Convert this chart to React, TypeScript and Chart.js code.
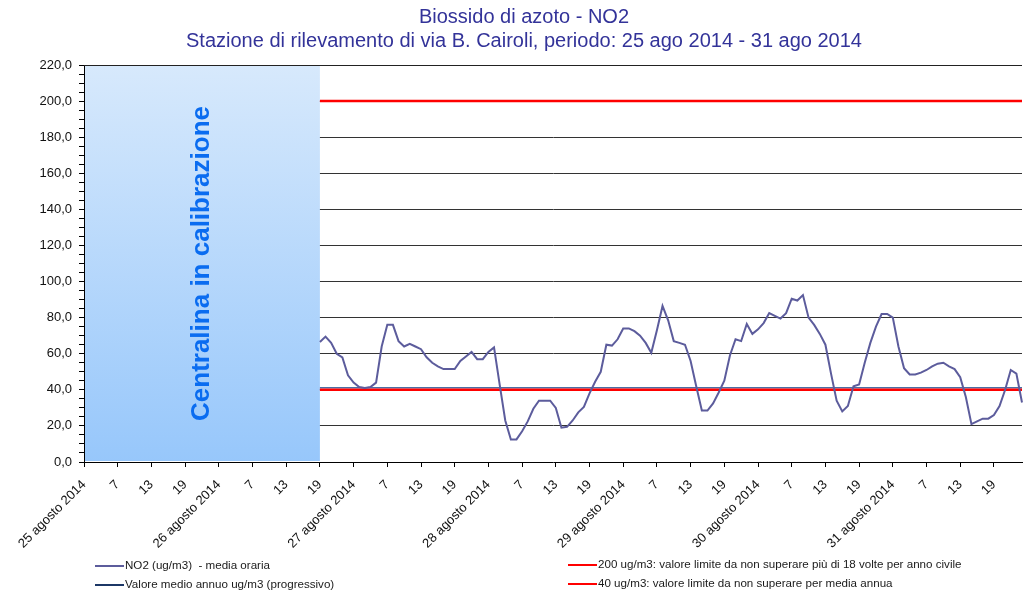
import React, { useEffect, useRef } from 'react';
import { Chart, registerables } from 'chart.js';

Chart.register(...registerables);

const titleLines = [
  'Biossido di azoto - NO2',
  'Stazione di rilevamento di via B. Cairoli, periodo: 25 ago 2014 - 31 ago 2014',
];

const dayLabels = [
  '25 agosto 2014',
  '26 agosto 2014',
  '27 agosto 2014',
  '28 agosto 2014',
  '29 agosto 2014',
  '30 agosto 2014',
  '31 agosto 2014',
];
const hoursPerDay = 24;
const hourTickEvery = 6; // tick labels: day, 7, 13, 19

const calibrationHours = 42; // hours with the station in calibration (no data)
const calibrationText = 'Centralina in calibrazione';

// NO2 hourly means (ug/m3) from 26 agosto h19 to 31 agosto h24
const no2Hourly = [
  66.5, 69.5, 66, 60, 58, 48, 44, 41.5, 41, 41.5,
  44, 64, 76, 76, 67, 64, 65.5, 64, 62.5, 58,
  55, 53, 51.5, 51.5, 51.5, 56, 58.5, 61, 57, 57,
  61, 63.5, 43, 23, 12.5, 12.5, 17, 22.5, 29.5, 34,
  34, 34, 30, 19, 19.5, 23, 27.5, 30.5, 38, 44.5,
  50, 65, 64.5, 68, 74, 74, 72.5, 70, 66, 60.5,
  73, 86.5, 78.5, 67, 66, 65, 56, 42, 28.5, 28.5,
  32.5, 38.5, 45, 59, 68, 67, 76.5, 71, 73.5, 77,
  82.5, 81, 79.5, 82.5, 90.5, 89.5, 92.5, 80, 76, 71,
  65, 49, 34, 28, 31, 42, 43, 55, 66, 75,
  82, 82, 80, 64, 52, 48.5, 48.5, 49.5, 51, 53,
  54.5, 55, 53, 51.5, 47, 36, 21, 22.5, 24, 24,
  26, 31, 40, 51, 49, 33,
];

const limitHourly = 200;
const limitAnnual = 40;
const annualMeanProgressive = 41.2;

const yMin = 0;
const yMax = 220;
const yMajorStep = 20;
const yMinorStep = 5;

const legendLabels = [
  'NO2 (ug/m3)  - media oraria',
  'Valore medio annuo ug/m3 (progressivo)',
  '200 ug/m3: valore limite da non superare più di 18 volte per anno civile',
  '40 ug/m3: valore limite da non superare per media annua',
];

const COL_NO2 = '#5c5c9c';
const COL_MEAN = '#1c3766';
const COL_LIMIT = '#ff0000';
const COL_TITLE = '#333399';
const FONT = '"Liberation Sans", Arial, sans-serif';

const categories: string[] = [];
dayLabels.forEach((d) => {
  for (let h = 1; h <= hoursPerDay; h++) categories.push(`${d} ${h}`);
});

const pad = (vals: (number | null)[]) => {
  const out: (number | null)[] = [];
  for (let i = 0; i < calibrationHours; i++) out.push(null);
  return out.concat(vals);
};
const constant = (v: number) => pad(categories.slice(calibrationHours).map(() => v));

const decorPlugin = {
  id: 'decor',
  beforeDatasetsDraw(chart: any) {
    const { ctx, chartArea: a, scales } = chart;
    const xEnd = scales.x.getPixelForValue(calibrationHours);
    ctx.save();
    const g = ctx.createLinearGradient(0, a.top, 0, a.bottom);
    g.addColorStop(0, '#d7e9fc');
    g.addColorStop(1, '#97c7fb');
    ctx.fillStyle = g;
    ctx.fillRect(a.left + 1, a.top, xEnd - a.left - 1, a.bottom - a.top - 1);
    ctx.strokeStyle = '#222';
    ctx.lineWidth = 1;
    ctx.beginPath();
    ctx.moveTo(a.left, a.top + 0.5);
    ctx.lineTo(a.right, a.top + 0.5);
    ctx.stroke();
    ctx.translate((a.left + xEnd) / 2, (a.top + a.bottom) / 2);
    ctx.rotate(-Math.PI / 2);
    ctx.font = `bold 26px ${FONT}`;
    ctx.fillStyle = '#0a6cf0';
    ctx.textAlign = 'center';
    ctx.textBaseline = 'middle';
    ctx.fillText(calibrationText, 0, 0);
    ctx.restore();
  },
  afterDraw(chart: any) {
    const { ctx } = chart;
    ctx.save();
    // titles
    ctx.fillStyle = COL_TITLE;
    ctx.textAlign = 'center';
    ctx.textBaseline = 'middle';
    ctx.font = `20px ${FONT}`;
    ctx.fillText(titleLines[0], 524, 17);
    ctx.fillText(titleLines[1], 524, 41);
    // legend
    const items = [
      { c: COL_NO2, x: 95, y: 566 },
      { c: COL_MEAN, x: 95, y: 585 },
      { c: COL_LIMIT, x: 568, y: 565 },
      { c: COL_LIMIT, x: 568, y: 584 },
    ];
    ctx.font = `11.6px ${FONT}`;
    ctx.textAlign = 'left';
    items.forEach((it, i) => {
      ctx.strokeStyle = it.c;
      ctx.lineWidth = 2;
      ctx.beginPath();
      ctx.moveTo(it.x, it.y);
      ctx.lineTo(it.x + 29, it.y);
      ctx.stroke();
      ctx.fillStyle = '#1a1a1a';
      ctx.fillText(legendLabels[i], it.x + 30, it.y);
    });
    ctx.restore();
  },
};

export default function App() {
  const ref = useRef<HTMLCanvasElement | null>(null);
  useEffect(() => {
    document.body.style.margin = '0';
    const canvas = ref.current;
    if (!canvas) return;
    const chart = new Chart(canvas, {
      type: 'line',
      data: {
        labels: categories,
        datasets: [
          {
            label: legendLabels[0],
            data: pad(no2Hourly),
            borderColor: COL_NO2,
            borderWidth: 2,
            pointRadius: 0,
            tension: 0,
            spanGaps: false,
          },
          {
            label: legendLabels[3],
            data: constant(limitAnnual),
            borderColor: COL_LIMIT,
            borderWidth: 2.5,
            pointRadius: 0,
          },
          {
            label: legendLabels[1],
            data: constant(annualMeanProgressive),
            borderColor: '#4a6fa5',
            borderWidth: 1.5,
            pointRadius: 0,
          },
          {
            label: legendLabels[2],
            data: constant(limitHourly),
            borderColor: COL_LIMIT,
            borderWidth: 2.5,
            pointRadius: 0,
          },
        ],
      },
      options: {
        responsive: false,
        animation: false,
        layout: { padding: { top: 65, right: 1, left: 0, bottom: 0 } },
        plugins: {
          legend: { display: false },
          title: { display: false },
          tooltip: { enabled: false },
        },
        scales: {
          x: {
            type: 'category',
            offset: false,
            grid: {
              drawOnChartArea: false,
              drawTicks: true,
              tickLength: 5,
              tickColor: (c: any) => (c.index % hourTickEvery === 0 ? '#000' : 'rgba(0,0,0,0)'),
            },
            border: { display: true, color: '#000', width: 1 },
            ticks: {
              autoSkip: false,
              minRotation: 45,
              maxRotation: 45,
              padding: 10,
              color: '#111',
              font: { family: FONT, size: 13 },
              callback: (_v: any, i: number) => {
                if (i % hoursPerDay === 0) return dayLabels[i / hoursPerDay];
                if (i % hourTickEvery === 0) return String((i % hoursPerDay) + 1);
                return '';
              },
            },
            afterFit: (s: any) => {
              s.height = 128;
              s.paddingLeft = 0;
              s.paddingRight = 0;
            },
          },
          y: {
            min: yMin,
            max: yMax,
            grid: {
              color: (c: any) =>
                c.tick && c.tick.value % yMajorStep === 0 && c.tick.value > 0 ? '#333' : 'rgba(0,0,0,0)',
              lineWidth: 1,
              tickLength: 5,
              tickColor: '#000',
            },
            border: { display: true, color: '#000', width: 1 },
            ticks: {
              stepSize: yMinorStep,
              autoSkip: false,
              padding: 7,
              color: '#111',
              font: { family: FONT, size: 13 },
              callback: (v: any) =>
                Number(v) % yMajorStep === 0 ? Number(v).toFixed(1).replace('.', ',') : '',
            },
            afterFit: (s: any) => {
              s.width = 84;
            },
          },
        },
      },
      plugins: [decorPlugin],
    } as any);
    return () => chart.destroy();
  }, []);
  return (
    <div style={{ position: 'absolute', left: 0, top: 0, width: 1023, height: 590 }}>
      <canvas ref={ref} width={1023} height={590} style={{ width: 1023, height: 590 }} />
    </div>
  );
}
